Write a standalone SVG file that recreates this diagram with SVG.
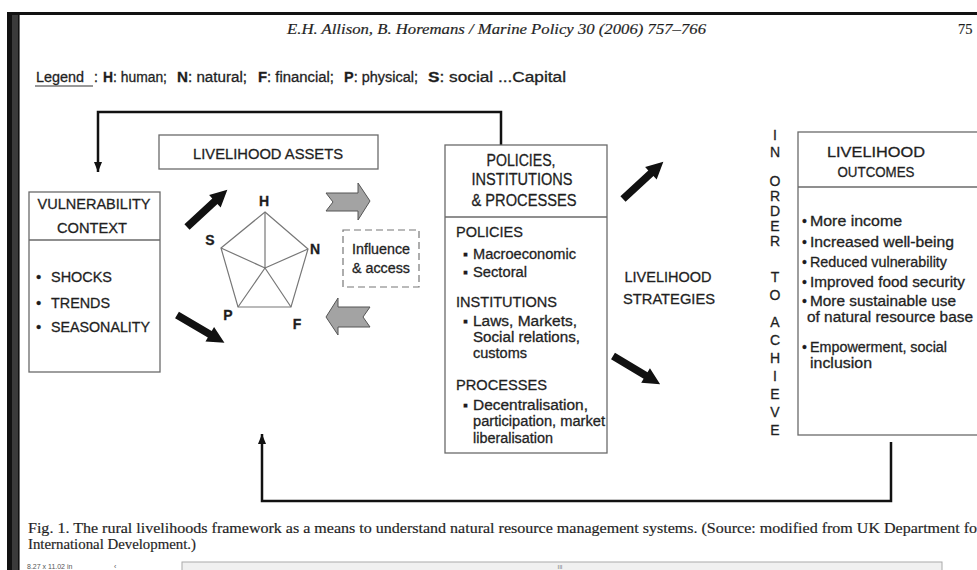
<svg xmlns="http://www.w3.org/2000/svg" width="977" height="570" viewBox="0 0 977 570">
<style>
.t{font-family:"Liberation Sans",Arial,sans-serif;fill:#1c1c1c;stroke:#2a2a2a;stroke-width:0.3}
.s15{font-size:15px}
.s14{font-size:14px}
.s16{font-size:16px}
.mid{text-anchor:middle}
.box{fill:#fff;stroke:#6a6a6a;stroke-width:1.3}
.ser{font-family:"Liberation Serif","Times New Roman",serif;fill:#1c1c1c;stroke:#333;stroke-width:0.2}
.fb{fill:none;stroke:#111;stroke-width:2.5}
.blk{fill:#111}
.gray{fill:#a3a3a3;stroke:#555;stroke-width:1}
.pent{fill:none;stroke:#777;stroke-width:1.2}
.vl{font-family:"Liberation Sans",Arial,sans-serif;font-size:14px;fill:#1c1c1c;stroke:#2a2a2a;stroke-width:0.3;text-anchor:middle}
</style>
<defs>
<polygon id="ba" points="0,-3.8 38,-3.8 38,-8.5 55,0 38,8.5 38,3.8 0,3.8"/>
<marker id="ah" markerUnits="userSpaceOnUse" markerWidth="12" markerHeight="10" refX="10" refY="5" orient="auto">
<path d="M0,1 L10,5 L0,9 z" fill="#111"/>
</marker>
</defs>
<rect width="977" height="570" fill="#fff"/>

<g id="frame">
<rect x="8" y="12" width="969" height="3" fill="#111"/>
<rect x="7" y="12" width="5" height="558" fill="#111"/>
<rect x="12" y="15" width="6" height="555" fill="#3a3a3a"/>
<rect x="18" y="15" width="1.6" height="555" fill="#111"/>
</g>

<g id="header">
<text class="ser" x="287" y="34" font-size="14.5" font-style="italic" textLength="419" lengthAdjust="spacingAndGlyphs">E.H. Allison, B. Horemans / Marine Policy 30 (2006) 757–766</text>
<text class="ser" x="958" y="34" font-size="14.5">75</text>
</g>

<g id="legend">
<text class="t s14" x="36" y="82" textLength="48" lengthAdjust="spacingAndGlyphs">Legend</text>
<line x1="35" y1="86" x2="93" y2="86" stroke="#333" stroke-width="1.2"/>
<text class="t s14" x="94" y="82">:</text>
<text class="t s14" x="103" y="82" textLength="64" lengthAdjust="spacingAndGlyphs"><tspan font-weight="bold">H</tspan>: human;</text>
<text class="t s14" x="177" y="82" textLength="70" lengthAdjust="spacingAndGlyphs"><tspan font-weight="bold">N</tspan>: natural;</text>
<text class="t s14" x="258" y="82" textLength="76" lengthAdjust="spacingAndGlyphs"><tspan font-weight="bold">F</tspan>: financial;</text>
<text class="t s14" x="344" y="82" textLength="74" lengthAdjust="spacingAndGlyphs"><tspan font-weight="bold">P</tspan>: physical;</text>
<text class="t s14" x="428" y="82" textLength="138" lengthAdjust="spacingAndGlyphs"><tspan font-weight="bold">S</tspan>: social ...Capital</text>
</g>

<g id="connectors">
<path class="fb" d="M501,145 V112 H98 V172" marker-end="url(#ah)"/>
<path class="fb" d="M891,442 V501 H262 V434" marker-end="url(#ah)"/>
<use href="#ba" class="blk" transform="translate(187,227) rotate(-42.8)"/>
<use href="#ba" class="blk" transform="translate(177,315) rotate(30.4)"/>
<use href="#ba" class="blk" transform="translate(623,199) rotate(-42.8)"/>
<use href="#ba" class="blk" transform="translate(613,356) rotate(31)"/>
<polygon class="gray" points="326,193 358,193 358,183 370,201 358,220 358,211 326,211 333,202"/>
<polygon class="gray" points="326,317 338,298 338,307 370,307 363,317 370,327 338,327 338,335"/>
</g>

<g id="vulnerability">
<rect class="box" x="29" y="192" width="131" height="180"/>
<line x1="29" y1="240" x2="160" y2="240" stroke="#6a6a6a" stroke-width="1.3"/>
<text class="t s15 mid" x="94" y="209" textLength="113" lengthAdjust="spacingAndGlyphs">VULNERABILITY</text>
<text class="t s15 mid" x="92" y="233" textLength="70" lengthAdjust="spacingAndGlyphs">CONTEXT</text>
<text class="t s15" x="36" y="282">•</text>
<text class="t s15" x="51" y="282" textLength="61" lengthAdjust="spacingAndGlyphs">SHOCKS</text>
<text class="t s15" x="36" y="308">•</text>
<text class="t s15" x="51" y="308" textLength="59" lengthAdjust="spacingAndGlyphs">TRENDS</text>
<text class="t s15" x="36" y="332">•</text>
<text class="t s15" x="51" y="332" textLength="99" lengthAdjust="spacingAndGlyphs">SEASONALITY</text>
</g>

<g id="assets">
<rect class="box" x="159" y="135" width="219" height="34"/>
<text class="t s15 mid" x="268" y="159" textLength="150" lengthAdjust="spacingAndGlyphs">LIVELIHOOD ASSETS</text>
</g>

<g id="pentagon">
<polygon class="pent" points="265,212 308,249 291,307 238,307 221,248"/>
<path class="pent" d="M265,268 L265,212 M265,268 L308,249 M265,268 L291,307 M265,268 L238,307 M265,268 L221,248"/>
<text class="t s14 mid" font-weight="bold" x="264" y="206">H</text>
<text class="t s14 mid" font-weight="bold" x="210" y="245">S</text>
<text class="t s14" font-weight="bold" x="310" y="254">N</text>
<text class="t s14 mid" font-weight="bold" x="228" y="320">P</text>
<text class="t s14 mid" font-weight="bold" x="297" y="329">F</text>
</g>

<g id="influence">
<rect x="343" y="230" width="76" height="57" fill="none" stroke="#777" stroke-width="1.2" stroke-dasharray="7,4"/>
<text class="t s14" x="352" y="254" textLength="58" lengthAdjust="spacingAndGlyphs">Influence</text>
<text class="t s14" x="352" y="273" textLength="58" lengthAdjust="spacingAndGlyphs">&amp; access</text>
</g>

<g id="pip">
<rect class="box" x="445" y="145" width="162" height="308"/>
<line x1="445" y1="217" x2="607" y2="217" stroke="#6a6a6a" stroke-width="1.3"/>
<text class="t s16 mid" x="521" y="166" textLength="69" lengthAdjust="spacingAndGlyphs">POLICIES,</text>
<text class="t s16 mid" x="522" y="185" textLength="101" lengthAdjust="spacingAndGlyphs">INSTITUTIONS</text>
<text class="t s16 mid" x="524" y="206" textLength="105" lengthAdjust="spacingAndGlyphs">&amp; PROCESSES</text>
<text class="t s15" x="456" y="237" textLength="67" lengthAdjust="spacingAndGlyphs">POLICIES</text>
<text class="t s14" x="463" y="259">▪</text>
<text class="t s14" x="473" y="259" textLength="103" lengthAdjust="spacingAndGlyphs">Macroeconomic</text>
<text class="t s14" x="463" y="277">▪</text>
<text class="t s14" x="473" y="277" textLength="54" lengthAdjust="spacingAndGlyphs">Sectoral</text>
<text class="t s15" x="456" y="307" textLength="101" lengthAdjust="spacingAndGlyphs">INSTITUTIONS</text>
<text class="t s14" x="463" y="326">▪</text>
<text class="t s14" x="473" y="326" textLength="104" lengthAdjust="spacingAndGlyphs">Laws,  Markets,</text>
<text class="t s14" x="473" y="342" textLength="107" lengthAdjust="spacingAndGlyphs">Social relations,</text>
<text class="t s14" x="473" y="358" textLength="54" lengthAdjust="spacingAndGlyphs">customs</text>
<text class="t s15" x="456" y="390" textLength="91" lengthAdjust="spacingAndGlyphs">PROCESSES</text>
<text class="t s14" x="463" y="410">▪</text>
<text class="t s14" x="473" y="410" textLength="115" lengthAdjust="spacingAndGlyphs">Decentralisation,</text>
<text class="t s14" x="473" y="426" textLength="132" lengthAdjust="spacingAndGlyphs">participation, market</text>
<text class="t s14" x="473" y="443" textLength="80" lengthAdjust="spacingAndGlyphs">liberalisation</text>
</g>

<g id="strategies">
<text class="t s15 mid" x="668" y="282" textLength="87" lengthAdjust="spacingAndGlyphs">LIVELIHOOD</text>
<text class="t s15 mid" x="669" y="304" textLength="92" lengthAdjust="spacingAndGlyphs">STRATEGIES</text>
</g>

<g id="in-order-to-achieve">
<text class="vl" x="775" y="140">I</text>
<text class="vl" x="775" y="157">N</text>
<text class="vl" x="775" y="186">O</text>
<text class="vl" x="775" y="201">R</text>
<text class="vl" x="775" y="216">D</text>
<text class="vl" x="775" y="231">E</text>
<text class="vl" x="775" y="246">R</text>
<text class="vl" x="775" y="282">T</text>
<text class="vl" x="775" y="300">O</text>
<text class="vl" x="775" y="327">A</text>
<text class="vl" x="775" y="345">C</text>
<text class="vl" x="775" y="363">H</text>
<text class="vl" x="775" y="381">I</text>
<text class="vl" x="775" y="399">E</text>
<text class="vl" x="775" y="417">V</text>
<text class="vl" x="775" y="435">E</text>
</g>

<g id="outcomes">
<rect class="box" x="798" y="132" width="200" height="303"/>
<line x1="798" y1="187" x2="977" y2="187" stroke="#6a6a6a" stroke-width="1.3"/>
<text class="t s15 mid" x="876" y="157" textLength="98" lengthAdjust="spacingAndGlyphs">LIVELIHOOD</text>
<text class="t s15 mid" x="876" y="177" textLength="77" lengthAdjust="spacingAndGlyphs">OUTCOMES</text>
<text class="t s14" x="802" y="226">•</text>
<text class="t s14" x="810" y="226" textLength="92" lengthAdjust="spacingAndGlyphs">More income</text>
<text class="t s14" x="802" y="247">•</text>
<text class="t s14" x="810" y="247" textLength="144" lengthAdjust="spacingAndGlyphs">Increased  well-being</text>
<text class="t s14" x="802" y="267">•</text>
<text class="t s14" x="810" y="267" textLength="137" lengthAdjust="spacingAndGlyphs">Reduced vulnerability</text>
<text class="t s14" x="802" y="287">•</text>
<text class="t s14" x="810" y="287" textLength="155" lengthAdjust="spacingAndGlyphs">Improved food security</text>
<text class="t s14" x="802" y="306">•</text>
<text class="t s14" x="810" y="306" textLength="146" lengthAdjust="spacingAndGlyphs">More sustainable use</text>
<text class="t s14" x="807" y="322" textLength="166" lengthAdjust="spacingAndGlyphs">of natural resource base</text>
<text class="t s14" x="802" y="352">•</text>
<text class="t s14" x="810" y="352" textLength="137" lengthAdjust="spacingAndGlyphs">Empowerment, social</text>
<text class="t s14" x="810" y="368" textLength="62" lengthAdjust="spacingAndGlyphs">inclusion</text>
</g>

<g id="caption">
<text class="ser" x="28" y="533" font-size="15.5" textLength="949" lengthAdjust="spacingAndGlyphs">Fig. 1. The rural livelihoods framework as a means to understand natural resource management systems. (Source: modified from UK Department fo</text>
<text class="ser" x="28" y="549" font-size="15.5" textLength="168" lengthAdjust="spacingAndGlyphs">International Development.)</text>
</g>

<g id="statusbar">
<text x="27" y="569" font-family="Liberation Sans, sans-serif" font-size="7" fill="#555">8.27 x 11.02 in</text>
<text x="114" y="569" font-family="Liberation Sans, sans-serif" font-size="7" fill="#555">‹</text>
<rect x="182" y="562" width="760" height="10" fill="#f0f0f0" stroke="#aaa" stroke-width="1"/>
<text x="560" y="569" font-family="Liberation Sans, sans-serif" font-size="6" fill="#777" text-anchor="middle">III</text>
</g>
</svg>
